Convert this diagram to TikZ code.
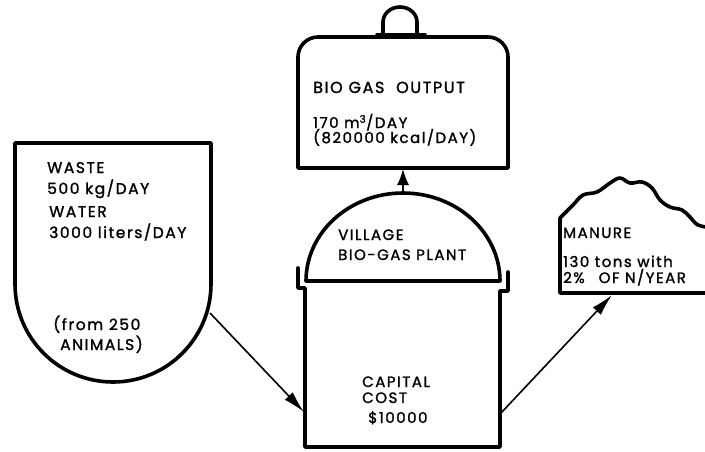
\documentclass[tikz,border=0pt]{standalone}
\usepackage{fontspec}
\setmainfont{Poppins}[LetterSpace=10, FakeBold=1.5]
\usetikzlibrary{arrows.meta}
\begin{document}
\begin{tikzpicture}[x=1pt,y=-1pt,
  outline/.style={line width=3.6pt, line join=round, line cap=round},
  conn/.style={line width=1.6pt, -{Latex[length=22pt,width=11pt]}},
  lbl/.style={anchor=base west, inner sep=0pt, font=\fontsize{15}{17}\selectfont},
  wastelbl/.style={lbl, font=\fontsize{15.5}{17}\selectfont},
  biglbl/.style={lbl, font=\fontsize{16}{18}\selectfont}]
\useasboundingbox (0,0) rectangle (705,451);
% waste container
\draw[outline] (113,382) arc[start angle=90, end angle=180, x radius=98, y radius=98]
  -- (15,143) -- (211,143) -- (211,284)
  arc[start angle=0, end angle=90, x radius=98, y radius=98];
% gas holder
\draw[outline] (298,168) -- (298,57) arc[start angle=180, end angle=270, radius=20]
  -- (488,37) arc[start angle=270, end angle=360, radius=20] -- (508,168) -- cycle;
\draw[outline] (383,36) -- (383,22) arc[start angle=180, end angle=360, x radius=17, y radius=15] -- (417,36);
\draw[outline] (377,35) -- (425,35);
% plant
\draw[outline] (306,281) arc[start angle=180, end angle=360, x radius=97, y radius=88] -- cycle;
\draw[outline] (298,268) -- (298,288) -- (305,288) -- (305,447) -- (500,447) -- (500,291) -- (508,291) -- (508,272);
% manure heap
\draw[outline] (712,293) -- (560,293) -- (560,218)
  plot[smooth, tension=0.6] coordinates {(560,218) (573,205) (583,195) (597,192) (610,183) (620,178) (630,183) (642,182) (652,188) (660,200) (670,207) (682,210) (690,217) (698,225) (712,228)};
% connector end points
\coordinate (wasteout) at (210,313);
\coordinate (plantin) at (304,412);
\coordinate (dometop) at (403,193);
\coordinate (gasin) at (403,169);
\coordinate (plantout) at (501,413);
\coordinate (manurein) at (612,295);
\draw[conn] (wasteout) -- (plantin);
\draw[conn, -{Latex[length=16pt,width=12pt]}] (dometop) -- (gasin);
\draw[conn] (plantout) -- (manurein);
% labels
\node[wastelbl] (t1) at (47,173) {WASTE};
\node[wastelbl] (t2) at (47,194) {500 kg/DAY};
\node[wastelbl] (t3) at (49,217) {WATER};
\node[wastelbl] (t4) at (49,238) {3000 liters/DAY};
\node[wastelbl] (t5) at (53,330) {(from 250};
\node[wastelbl] (t6) at (60,350) {ANIMALS)};
\node[biglbl] (g1) at (313,93) {BIO GAS\ \ OUTPUT};
\node[lbl] (g2) at (313,128) {170 m\textsuperscript{3}/DAY};
\node[lbl] (g3) at (313,143) {(820000 kcal/DAY)};
\node[lbl] (p1) at (338,240) {VILLAGE};
\node[lbl] (p2) at (338,260) {BIO-GAS PLANT};
\node[lbl] (p3) at (362,387) {CAPITAL};
\node[lbl] (p4) at (362,403) {COST};
\node[lbl] (p5) at (368,423) {\$10000};
\node[lbl] (m1) at (563,238) {MANURE};
\node[lbl] (m2) at (563,267) {130 tons with};
\node[lbl] (m3) at (563,283) {2\%\hspace{14pt}OF N/YEAR};
\end{tikzpicture}
\end{document}
